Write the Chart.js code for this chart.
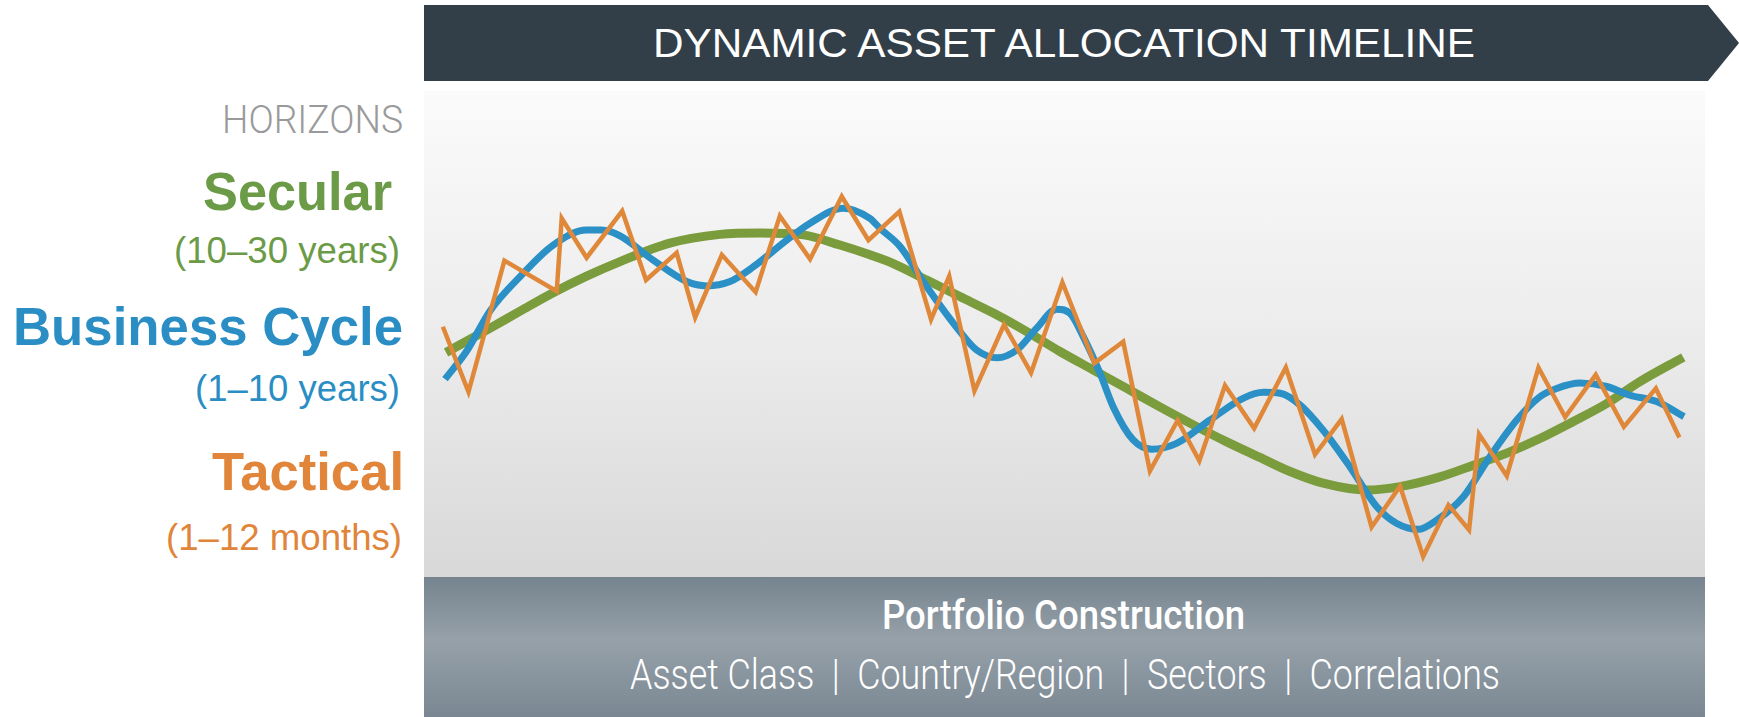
<!DOCTYPE html>
<html>
<head>
<meta charset="utf-8">
<script src="https://cdn.jsdelivr.net/npm/chart.js@4/dist/chart.umd.min.js"></script>
<style>
  html, body { margin: 0; padding: 0; background: #fff; }
  #page { position: relative; width: 1739px; height: 717px; overflow: hidden; background: #fff; }
  #banner { position: absolute; left: 424px; top: 5px; width: 1315px; height: 76px; background: #323e48;
            clip-path: polygon(0 0, 1284px 0, 1315px 38px, 1284px 76px, 0 76px); }
  #plot { position: absolute; left: 424px; top: 91px; width: 1281px; height: 486px;
          background: linear-gradient(to bottom, #fbfbfb 0%, #ececec 50%, #d8d8d8 100%); }
  #base { position: absolute; left: 424px; top: 577px; width: 1281px; height: 140px;
          background: linear-gradient(to bottom, #76848f 0%, #96a1a9 45%, #7a8792 100%); }
  .t { position: absolute; white-space: pre; line-height: 1; transform-origin: left center; }
  .arial { font-family: "Liberation Sans", Arial, sans-serif; }
  .rob { font-family: Roboto, "Liberation Sans", sans-serif; }
</style>
</head>
<body>
<div id="page">
  <div id="banner"></div>
  <div id="plot"><canvas id="chart"></canvas></div>
  <div id="base"></div>

  <span class="t arial" style="left:653px;top:22px;font-size:41.5px;color:#fff" data-w="822">DYNAMIC ASSET ALLOCATION TIMELINE</span>

  <span class="t rob" style="left:222px;top:101px;font-size:38px;font-weight:300;color:#9a9a9a" data-w="181">HORIZONS</span>
  <span class="t arial" style="left:203px;top:165px;font-size:53px;font-weight:bold;color:#6b9b47" data-w="189">Secular</span>
  <span class="t arial" style="left:174px;top:233px;font-size:36.5px;color:#6b9b47" data-w="226">(10–30 years)</span>
  <span class="t arial" style="left:13px;top:300px;font-size:53px;font-weight:bold;color:#2a8ec5" data-w="390">Business Cycle</span>
  <span class="t arial" style="left:195px;top:371px;font-size:36.5px;color:#2a8ec5" data-w="205">(1–10 years)</span>
  <span class="t arial" style="left:212px;top:445px;font-size:53px;font-weight:bold;color:#e0853a" data-w="192">Tactical</span>
  <span class="t arial" style="left:166px;top:520px;font-size:36.5px;color:#e0853a" data-w="236">(1–12 months)</span>

  <span class="t rob" style="left:882px;top:596px;font-size:40px;font-weight:500;color:#fff" data-w="363">Portfolio Construction</span>
  <span class="t rob" style="left:630px;top:653px;font-size:43px;font-weight:300;color:#fff" data-w="870">Asset Class  |  Country/Region  |  Sectors  |  Correlations</span>
</div>

<script>
// x in months across the 30-year timeline, y as a relative level 0-100
var tacticalX = [5.3, 12.5, 22.6, 37.3, 38.7, 45.7, 55.7, 62.4, 71.0, 76.2, 83.7, 93.2, 100.0, 108.5, 117.4,
                 124.9, 133.6, 142.5, 147.6, 154.7, 163.0, 170.6, 179.4, 188.4, 196.5, 204.0, 211.8, 217.9,
                 225.1, 233.3, 242.2, 250.4, 257.9, 266.3, 274.3, 280.8, 287.9, 293.7, 296.5, 304.3, 313.2,
                 320.7, 329.3, 337.2, 346.2, 352.8];
var tacticalY = [51.5, 38.1, 65.1, 58.8, 73.8, 65.7, 75.3, 61.1, 66.7, 53.4, 66.3, 58.6, 74.3, 65.4, 78.3,
                 69.3, 75.2, 53.0, 61.9, 38.3, 51.9, 42.0, 60.6, 44.0, 48.4, 21.8, 32.2, 23.9,
                 39.4, 30.6, 43.1, 25.2, 32.5, 10.3, 18.7, 4.2, 14.8, 9.7, 29.4, 20.8, 43.1,
                 32.9, 41.6, 30.9, 38.8, 28.7];

var cycleX = [5.9, 12.0, 18.6, 27.0, 36.3, 45.7, 49.9, 55.1, 64.4, 73.8, 79.5, 86.0, 92.5, 101.9, 108.5,
              117.8, 125.3, 128.2, 133.8, 141.3, 150.6, 155.3, 161.0, 166.6, 172.2, 177.8, 181.6, 185.3,
              190.0, 193.7, 199.3, 204.5, 211.5, 220.9, 230.3, 235.9, 240.6, 246.2, 252.7, 260.2, 267.7,
              273.4, 279.4, 284.6, 292.1, 299.6, 307.1, 313.6, 318.3, 324.9, 332.4, 338.9, 346.4, 354.1];
var cycleY = [40.7, 46.5, 54.8, 61.8, 68.3, 71.4, 71.4, 70.2, 65.2, 60.8, 59.9, 60.8, 63.8, 69.3, 72.8,
              75.9, 73.8, 71.7, 68.0, 59.7, 50.5, 46.7, 45.1, 46.7, 51.2, 55.1, 54.2, 49.4,
              41.9, 35.0, 28.2, 26.3, 27.5, 32.3, 36.8, 38.0, 37.8, 35.4, 30.2, 22.7, 14.5,
              11.0, 9.8, 11.7, 16.5, 24.8, 32.3, 37.1, 38.8, 39.9, 39.2, 37.4, 36.1, 33.0];

var secularX = [6.2, 17.6, 27.0, 36.3, 45.7, 55.1, 69.1, 83.2, 94.4, 106.6, 116.9, 125.3, 131.9, 141.3,
                150.6, 160.0, 169.4, 178.7, 188.1, 197.5, 206.8, 216.2, 225.6, 234.9, 243.4, 252.7,
                264.9, 274.3, 285.5, 294.9, 304.3, 313.6, 323.0, 332.4, 341.7, 353.9];
var secularY = [46.2, 50.8, 54.7, 58.5, 61.9, 64.9, 68.7, 70.5, 70.8, 70.4, 68.3, 66.3, 64.5, 61.1,
                57.7, 54.3, 50.5, 46.4, 42.6, 38.8, 35.0, 31.3, 27.8, 24.6, 21.7, 19.3,
                17.9, 18.6, 20.6, 23.0, 25.5, 28.5, 32.0, 35.7, 40.2, 45.2];

function points(xs, ys) {
    var out = [];
    for (var i = 0; i < xs.length; i++) {
        out.push({ x: xs[i], y: ys[i] });
    }
    return out;
}

var chart = new Chart(document.getElementById('chart'), {
    type: 'line',
    data: {
        datasets: [
            {
                label: 'Tactical',
                data: points(tacticalX, tacticalY),
                borderColor: '#e0883a',
                borderWidth: 4.5,
                tension: 0,
                borderJoinStyle: 'miter',
                pointRadius: 0,
                order: 1
            },
            {
                label: 'Business Cycle',
                data: points(cycleX, cycleY),
                borderColor: '#2a90c6',
                borderWidth: 7,
                cubicInterpolationMode: 'monotone',
                pointRadius: 0,
                order: 2
            },
            {
                label: 'Secular',
                data: points(secularX, secularY),
                borderColor: '#7a9c3c',
                borderWidth: 9,
                cubicInterpolationMode: 'monotone',
                pointRadius: 0,
                order: 3
            }
        ]
    },
    options: {
        responsive: true,
        maintainAspectRatio: false,
        animation: false,
        events: [],
        layout: { padding: 0 },
        scales: {
            x: { type: 'linear', min: 0, max: 360, display: false },
            y: { min: 0, max: 100, display: false }
        },
        plugins: {
            legend: { display: false },
            tooltip: { enabled: false }
        }
    }
});

// squeeze each label to the width it has in the original
function fitText() {
    document.querySelectorAll('.t').forEach(function (el) {
        el.style.transform = 'none';
        var w = parseFloat(el.getAttribute('data-w'));
        var r = el.getBoundingClientRect().width;
        if (r > 0) el.style.transform = 'scaleX(' + (w / r) + ')';
    });
}
fitText();
if (document.fonts) document.fonts.ready.then(fitText);
</script>
</body>
</html>
